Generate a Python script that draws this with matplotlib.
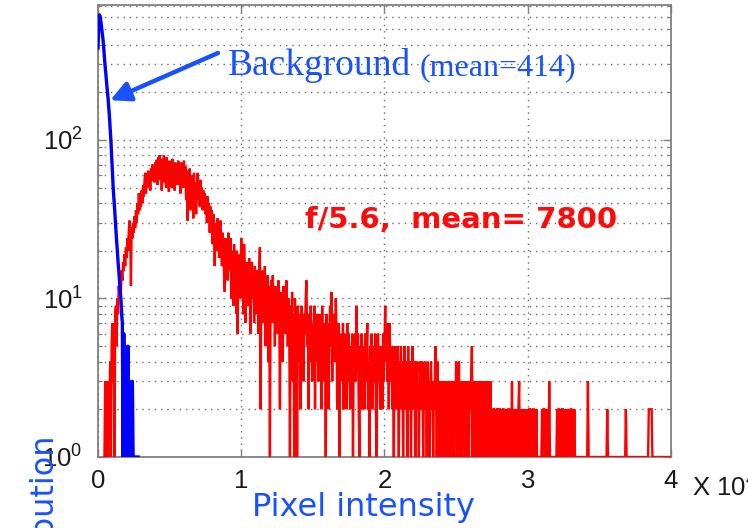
import numpy as np
import matplotlib
matplotlib.use("Agg")
import matplotlib.pyplot as plt
from matplotlib.ticker import FixedLocator, LogLocator, NullFormatter

plt.rcParams['font.family'] = ['Liberation Sans', 'DejaVu Sans']
plt.rcParams['mathtext.fontset'] = 'custom'
plt.rcParams['mathtext.rm'] = 'Liberation Sans'
plt.rcParams['mathtext.default'] = 'regular'

# ---------------- data ----------------
bin_width = 50  # pixel-intensity units per histogram bin

# Background (blue) histogram counts, bins starting at 0
background_counts = [
    380, 520, 615, 600, 560, 510, 470, 430, 380, 330,
    290, 260, 230, 205, 185, 160, 140, 118, 100, 80,
    65, 52, 44, 38, 32, 27, 23, 20, 17, 15,
    13, 11, 10, 8, 7, 1, 6, 1, 5, 2,
    4, 1, 5, 1, 3, 1, 2, 1, 3, 1,
    1, 1, 1, 1, 1, 1, 1,
]

# f/5.6 (red) histogram counts, 800 bins from 0 to 40000
signal_counts = [
    # 0 - 2000
    0, 0, 0, 0, 0, 0, 0, 0, 0, 1,
    3, 1, 3, 2, 1, 3, 2, 4, 1, 5,
    7, 3, 6, 1, 8, 9, 5, 10, 8, 12,
    10, 13, 11, 15, 13, 17, 15, 19, 16, 21,
    # 2000 - 4000
    18, 24, 20, 27, 31, 25, 12, 28, 24, 30,
    26, 33, 28, 36, 30, 40, 34, 46, 36, 42,
    38, 48, 40, 52, 44, 56, 62, 46, 58, 50,
    64, 52, 60, 48, 66, 55, 70, 58, 68, 54,
    # 4000 - 6000
    72, 60, 75, 52, 78, 62, 80, 56, 74, 48,
    76, 60, 80, 54, 70, 50, 78, 62, 72, 47,
    74, 58, 66, 50, 76, 55, 70, 48, 72, 60,
    68, 52, 74, 56, 66, 46, 72, 58, 70, 50,
    # 6000 - 8000
    74, 55, 68, 42, 64, 31, 58, 48, 66, 36,
    60, 45, 56, 32, 62, 40, 54, 34, 50, 62,
    42, 52, 38, 56, 44, 50, 36, 48, 40, 46,
    34, 44, 30, 44, 36, 40, 26, 38, 30, 36,
    # 8000 - 10000
    22, 34, 28, 16, 30, 24, 20, 32, 26, 18,
    28, 31, 22, 16, 26, 20, 14, 11, 24, 18,
    22, 13, 26, 19, 15, 24, 10, 20, 16, 9,
    22, 14, 18, 8, 20, 6, 16, 12, 19, 10,
    # 10000 - 12000
    24, 12, 18, 8, 22, 14, 7, 17, 11, 16,
    9, 18, 13, 6, 15, 17, 10, 14, 7, 16,
    12, 8, 15, 11, 6, 14, 21, 2, 13, 9,
    15, 7, 12, 16, 5, 11, 9, 14, 4, 12,
    # 12000 - 14000
    1, 10, 13, 7, 14, 9, 11, 5, 12, 8,
    10, 6, 13, 9, 2, 11, 7, 10, 4, 12,
    8, 11, 6, 13, 9, 5, 10, 7, 1, 9,
    6, 11, 3, 8, 1, 10, 5, 7, 1, 9,
    # 14000 - 16000
    4, 8, 6, 2, 9, 5, 7, 3, 8, 6,
    10, 13, 5, 7, 2, 8, 4, 9, 6, 3,
    7, 5, 9, 2, 6, 8, 4, 7, 3, 8,
    5, 6, 2, 9, 4, 7, 3, 6, 1, 8,
    # 16000 - 18000
    4, 7, 2, 6, 9, 5, 11, 3, 7, 5,
    8, 4, 10, 6, 2, 5, 7, 1, 6, 4,
    5, 3, 7, 2, 6, 4, 5, 2, 7, 3,
    6, 4, 2, 5, 3, 6, 1, 5, 4, 6,
    # 18000 - 20000
    3, 9, 4, 6, 2, 1, 5, 3, 6, 2,
    4, 5, 2, 6, 3, 5, 7, 2, 4, 1,
    5, 3, 6, 2, 4, 5, 3, 6, 2, 1,
    4, 6, 3, 5, 2, 4, 5, 2, 6, 3,
    # 20000 - 22000
    5, 9, 4, 7, 3, 5, 2, 7, 4, 3,
    5, 2, 4, 1, 5, 3, 4, 2, 5, 3,
    1, 4, 3, 5, 2, 4, 1, 3, 5, 2,
    4, 3, 1, 5, 3, 2, 4, 1, 3, 5,
    # 22000 - 24000
    3, 2, 4, 1, 3, 4, 2, 3, 1, 4,
    3, 2, 4, 3, 1, 3, 4, 2, 3, 1,
    4, 2, 3, 1, 3, 4, 2, 3, 1, 3,
    2, 5, 3, 1, 4, 2, 3, 1, 3, 2,
    # 24000 - 26000
    3, 1, 3, 2, 1, 3, 2, 3, 1, 2,
    3, 1, 3, 2, 1, 3, 2, 1, 3, 2,
    4, 1, 3, 2, 4, 1, 3, 2, 1, 3,
    2, 3, 1, 2, 3, 1, 3, 2, 1, 3,
    # 26000 - 28000
    2, 3, 5, 1, 3, 2, 1, 3, 2, 3,
    1, 3, 2, 1, 3, 2, 3, 1, 2, 3,
    1, 2, 3, 1, 2, 3, 1, 2, 3, 1,
    2, 1, 2, 2, 1, 2, 1, 2, 2, 1,
    # 28000 - 30000
    2, 2, 1, 2, 1, 2, 2, 1, 2, 1,
    1, 2, 1, 2, 2, 1, 2, 1, 3, 1,
    2, 1, 2, 1, 1, 2, 1, 2, 3, 1,
    2, 1, 1, 2, 1, 2, 1, 1, 2, 1,
    # 30000 - 32000
    2, 1, 2, 2, 1, 2, 1, 2, 2, 1,
    2, 1, 2, 1, 1, 1, 1, 1, 1, 1,
    2, 1, 2, 2, 1, 2, 1, 2, 1, 1,
    3, 1, 1, 1, 1, 1, 1, 1, 1, 1,
    # 32000 - 34000
    1, 2, 1, 2, 2, 1, 2, 1, 2, 2,
    1, 2, 1, 2, 1, 2, 1, 1, 2, 1,
    2, 2, 1, 2, 1, 2, 1, 1, 1, 1,
    1, 1, 1, 1, 1, 1, 1, 1, 1, 1,
    # 34000 - 36000
    1, 1, 1, 1, 3, 1, 1, 1, 1, 1,
    1, 1, 1, 1, 1, 1, 1, 1, 1, 1,
    1, 1, 1, 1, 1, 1, 1, 1, 1, 1,
    1, 2, 1, 1, 1, 1, 1, 1, 1, 1,
    # 36000 - 38000
    1, 1, 1, 1, 1, 1, 1, 1, 1, 1,
    1, 1, 1, 1, 1, 1, 1, 2, 1, 1,
    1, 1, 1, 1, 1, 1, 1, 1, 1, 1,
    1, 1, 1, 1, 1, 1, 1, 1, 1, 1,
    # 38000 - 40000
    1, 1, 1, 1, 1, 1, 1, 1, 1, 2,
    2, 2, 2, 2, 1, 1, 1, 1, 1, 1,
    1, 1, 1, 1, 1, 1, 1, 1, 1, 1,
    1, 1, 1, 1, 1, 1, 1, 1, 1, 1,
]

x_ticks = [0, 10000, 20000, 30000, 40000]
x_tick_labels = ['0', '1', '2', '3', '4']
y_ticks = [1, 10, 100]

background_label = 'Background'
background_note = '(mean=414)'
signal_label = 'f/5.6,  mean= 7800'

# ---------------- figure ----------------
W, H = 748, 528
fig = plt.figure(figsize=(W / 100, H / 100), dpi=100)
ax = fig.add_axes([98 / W, (H - 457) / H, (671 - 98) / W, (457 - 5) / H])

sig = np.array(signal_counts, dtype=float)
bg = np.array(background_counts, dtype=float)
x_sig = np.arange(len(sig)) * bin_width
x_bg = np.arange(len(bg)) * bin_width

ax.set_yscale('log', nonpositive='mask')
ax.plot(x_sig, np.where(sig > 0, sig, np.nan), color='#ff0000', lw=1.7,
        solid_joinstyle='miter', zorder=3)
ax.plot(x_bg, np.where(bg > 0, bg, np.nan), color='#0000ff', lw=2.4, zorder=4)

ax.set_xlim(0, 40000)
ax.set_ylim(1, 710)
ax.xaxis.set_major_locator(FixedLocator(x_ticks))
ax.set_xticklabels(x_tick_labels)
ax.yaxis.set_major_locator(FixedLocator(y_ticks))
ax.yaxis.set_minor_locator(LogLocator(base=10, subs=np.arange(2, 10)))
ax.yaxis.set_minor_formatter(NullFormatter())

grid_kw = dict(color='#6e6e6e', lw=1.0, linestyle=(0, (1, 3.5)))
ax.grid(True, which='major', axis='both', **grid_kw)
ax.grid(True, which='minor', axis='y', **grid_kw)
ax.set_axisbelow(True)

for s in ax.spines.values():
    s.set_color('#808080')
    s.set_linewidth(1.3)

ax.tick_params(which='major', direction='in', length=6, width=1, colors='#808080',
               top=True, right=True, labelsize=18.5, labelcolor='#1a1a1a')
ax.tick_params(which='minor', direction='in', length=3, width=0.8, colors='#808080',
               top=False, right=True)
ax.tick_params(axis='x', which='major', pad=9)
ax.tick_params(axis='y', which='major', pad=11)

blue_txt = '#1852ff'

# x-axis multiplier
fig.text(692 / W, 1 - 488 / H, 'X $10^{4}$', fontsize=18.5, color='#1a1a1a',
         ha='left', va='center')

# axis labels (blue, partly cut by the figure edge)
fig.text(363.5 / W, 1 - 516 / H, 'Pixel intensity', fontsize=23, color=blue_txt,
         family='DejaVu Sans', ha='center', va='baseline',
         bbox=dict(boxstyle='square,pad=0.08', fc='white', ec='none'), zorder=5)
fig.text(51 / W, 1 - 432 / H, 'Distribution', fontsize=23, color=blue_txt,
         family='DejaVu Sans', rotation=90, rotation_mode='anchor',
         ha='right', va='baseline')

# annotations
fig.text(228 / W, 1 - 75 / H, background_label, fontsize=27, color=blue_txt,
         family='Liberation Serif', ha='left', va='baseline')
fig.text(420 / W, 1 - 75 / H, background_note, fontsize=23, color=blue_txt,
         family='Liberation Serif', ha='left', va='baseline')
ax.annotate('', xy=(850, 178), xycoords='data',
            xytext=(218, H - 53), textcoords='figure pixels',
            arrowprops=dict(arrowstyle='-|>', mutation_scale=30, lw=3.2,
                            color=blue_txt, shrinkA=0, shrinkB=0))
fig.text(305 / W, 1 - 228 / H, signal_label, fontsize=21, color='#ff0a0a',
         family='DejaVu Sans', fontweight='bold', ha='left', va='baseline')

fig.savefig('out.png', dpi=100, facecolor='white')
